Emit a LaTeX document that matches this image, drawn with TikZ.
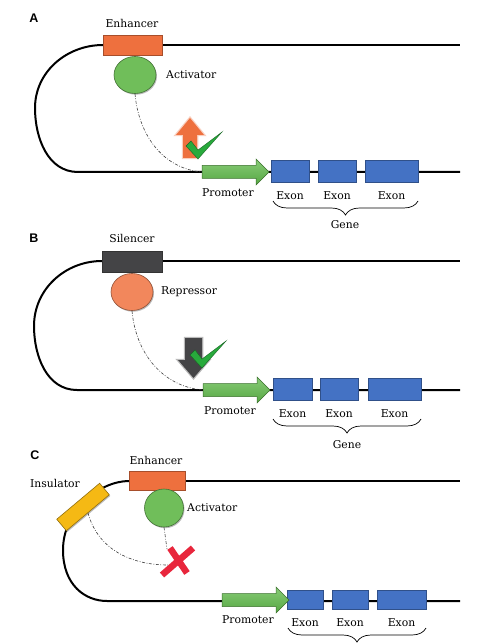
\documentclass[tikz,border=0pt]{standalone}
\usepackage{fontspec}
\setmainfont{DejaVu Serif}
\newfontfamily\panelfont{Liberation Sans}
\usetikzlibrary{shapes.geometric,decorations.pathreplacing,positioning,shadows}

\definecolor{enhorange}{RGB}{238,112,62}
\definecolor{silgray}{RGB}{68,68,70}
\definecolor{actgreen}{RGB}{112,190,90}
\definecolor{repress}{RGB}{242,135,92}
\definecolor{exblue}{RGB}{68,114,196}
\definecolor{promgreen}{RGB}{96,186,74}
\definecolor{insyellow}{RGB}{245,185,20}
\definecolor{xred}{RGB}{232,38,60}
\definecolor{checkgreen}{RGB}{40,170,60}

\tikzset{
  dna/.style={line width=2pt, black},
  sitebox/.style={rectangle, inner sep=0pt, line width=0.6pt,
    drop shadow={shadow xshift=1pt, shadow yshift=-1.2pt, fill=black!60, opacity=0.45}},
  factor/.style={ellipse, inner sep=0pt, line width=0.6pt,
    drop shadow={shadow xshift=1pt, shadow yshift=-1.2pt, fill=black!60, opacity=0.45}},
  exon/.style={rectangle, inner sep=0pt, fill=exblue, draw=exblue!70!black, line width=0.5pt,
    drop shadow={shadow xshift=0.8pt, shadow yshift=-1pt, fill=black!60, opacity=0.4}},
  lbl/.style={font=\fontsize{10.8}{13}\selectfont, inner sep=1pt},
  panel/.style={font=\panelfont\bfseries\fontsize{12.5}{14}\selectfont, inner sep=0pt},
  link/.style={dash pattern=on 3pt off 1.6pt on 0.8pt off 1.6pt, line width=0.6pt, black!75},
  gene/.style={decorate, decoration={brace, mirror, amplitude=14pt}, line width=0.7pt},
  xmark/.style={xred, line width=6.5pt},
  promoter/.pic={
    \draw[draw=promgreen!60!black, line width=0.5pt, top color=promgreen!75!white, bottom color=promgreen!90!black]
      (0,-6.5) -- (54,-6.5) -- (54,-13) -- (67,0) -- (54,13) -- (54,6.5) -- (0,6.5) -- cycle;
    \coordinate (-start) at (0,0);
  },
  check/.pic={
    \fill[checkgreen, draw=checkgreen!60!black, line width=0.4pt]
      (-2,3) -- (3,-2) -- (10,7) -- (34,-11) -- (10,16) -- cycle;
  }
}

\begin{document}
\begin{tikzpicture}[x=1pt, y=-1pt]
  \clip (0,0) rectangle (481,644);
  \fill[white] (0,0) rectangle (481,644);

  % A: enhancer loop with activator
  \node[panel] (labA) at (34,18) {A};
  \draw[dna] (103,45) to[out=180,in=90] (35,108) to[out=-90,in=180] (78,172) -- (460,172);
  \draw[dna] (162,45) -- (460,45);
  \node[sitebox, fill=enhorange, draw=enhorange!70!black, minimum width=59pt, minimum height=20pt] (enhA) at (132.5,45) {};
  \node[lbl] at (132,23) {Enhancer};
  \node[factor, fill=actgreen, draw=actgreen!60!black, minimum width=42pt, minimum height=37pt] (actA) at (135,75) {};
  \node[lbl, anchor=west] at (165,75) {Activator};
  \fill[enhorange, preaction={draw=enhorange!55, line width=2.5pt, opacity=0.6}]
    (183,158) -- (183,135) -- (176,135) -- (190,118) -- (204,135) -- (197,135) -- (197,158) -- cycle;
  \pic at (188,143) {check};
  \node[exon, minimum width=38pt, minimum height=22pt] (exA1) at (290,171) {};
  \node[exon, minimum width=38pt, minimum height=22pt] (exA2) at (337,171) {};
  \node[exon, minimum width=53pt, minimum height=22pt] (exA3) at (391.5,171) {};
  \pic (pA) at (202,172) {promoter};
  \draw[link] (actA.south) to[out=-85,in=175] (pA-start);
  \node[lbl] at (228,193) {Promoter};
  \foreach \e in {exA1,exA2,exA3}
    \node[lbl] at ([yshift=-13pt]\e.south) {Exon};
  \draw[gene] (273,201) -- (418,201);
  \node[lbl] at (345,225) {Gene};

  % B: silencer loop with repressor
  \node[panel] (labB) at (34,238) {B};
  \draw[dna] (102,261) to[out=180,in=90] (34,326) to[out=-90,in=180] (77,390) -- (460,390);
  \draw[dna] (162,261) -- (460,261);
  \node[sitebox, fill=silgray, draw=black!80, minimum width=60pt, minimum height=21pt] (silB) at (132,261.5) {};
  \node[lbl] at (132,238) {Silencer};
  \node[factor, fill=repress, draw=repress!60!black, minimum width=42pt, minimum height=37pt] (repB) at (132,292) {};
  \node[lbl, anchor=west] at (160,292) {Repressor};
  \fill[silgray, preaction={draw=black!45, line width=2.5pt, opacity=0.6}]
    (185,338) -- (202,338) -- (202,360) -- (209,360) -- (193.5,378) -- (178,360) -- (185,360) -- cycle;
  \pic at (192,352) {check};
  \node[exon, minimum width=39pt, minimum height=22pt] (exB1) at (292.5,389) {};
  \node[exon, minimum width=38pt, minimum height=22pt] (exB2) at (339,389) {};
  \node[exon, minimum width=53pt, minimum height=22pt] (exB3) at (394.5,389) {};
  \pic (pB) at (203,390) {promoter};
  \draw[link] (repB.south) to[out=-85,in=175] (pB-start);
  \node[lbl] at (230,411) {Promoter};
  \foreach \e in {exB1,exB2,exB3}
    \node[lbl] at ([yshift=-13pt]\e.south) {Exon};
  \draw[gene] (273,419) -- (421,419);
  \node[lbl] at (347,445) {Gene};

  % C: insulator blocks the enhancer
  \node[panel] (labC) at (35,455) {C};
  \draw[dna] (129,481) .. controls (100,481) and (63,510) .. (63,550)
    .. controls (63,585) and (85,601) .. (107,601) -- (460,601);
  \draw[dna] (185,481) -- (460,481);
  \node[sitebox, fill=enhorange, draw=enhorange!70!black, minimum width=56pt, minimum height=19pt] (enhC) at (157,480.5) {};
  \node[lbl] at (156,460) {Enhancer};
  \node[sitebox, fill=insyellow, draw=insyellow!60!black, minimum width=56pt, minimum height=15pt, rotate=40] (insC) at (83,507) {};
  \node[lbl] at (55,483) {Insulator};
  \node[factor, fill=actgreen, draw=actgreen!60!black, minimum width=39pt, minimum height=38pt] (actC) at (164,508) {};
  \node[lbl, anchor=west] at (186,508) {Activator};
  \coordinate (xtop) at (167,549);
  \coordinate (xleft) at (168,565);
  \draw[link] (actC.south) -- (xtop);
  \draw[link] (insC.south) to[out=-75,in=180] (xleft);
  \draw[xmark] (170,548) -- (187,573);
  \draw[xmark] (193,548) -- (162,575);
  \node[exon, minimum width=36pt, minimum height=19pt] (exC1) at (305,599.5) {};
  \node[exon, minimum width=36pt, minimum height=19pt] (exC2) at (350,599.5) {};
  \node[exon, minimum width=49pt, minimum height=19pt] (exC3) at (401.5,599.5) {};
  \pic (pC) at (222,600) {promoter};
  \node[lbl] at (248,620) {Promoter};
  \foreach \e in {exC1,exC2,exC3}
    \node[lbl] at ([yshift=-13pt]\e.south) {Exon};
  \draw[gene] (288,628) -- (426,628);
\end{tikzpicture}
\end{document}
